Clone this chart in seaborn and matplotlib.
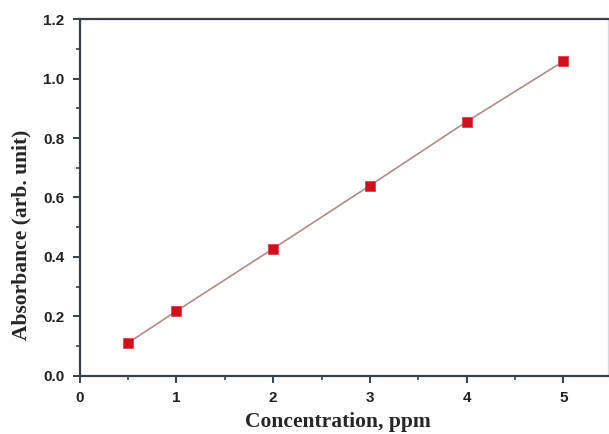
import numpy as np
import pandas as pd
import matplotlib
matplotlib.use("Agg")
import matplotlib.pyplot as plt
import seaborn as sns
from matplotlib.ticker import MultipleLocator

# calibration data
concentration = [0.5, 1, 2, 3, 4, 5]
absorbance = [0.111, 0.218, 0.428, 0.640, 0.855, 1.058]

df = pd.DataFrame({"conc": concentration, "abs": absorbance})

sns.set_style("ticks")

fig = plt.figure(figsize=(6.09, 4.34), dpi=100)
ax = fig.add_axes([0.131, 0.134, 0.867, 0.822])

sns.lineplot(data=df, x="conc", y="abs", ax=ax, color="#b38a8a", linewidth=1.2,
             marker="s", markersize=7, markerfacecolor="#d0101c",
             markeredgecolor="#e04050", markeredgewidth=0.6)

ax.set_xlim(0, 5.46)
ax.set_ylim(0, 1.2)
ax.xaxis.set_major_locator(MultipleLocator(1))
ax.xaxis.set_minor_locator(MultipleLocator(0.5))
ax.yaxis.set_major_locator(MultipleLocator(0.2))
ax.yaxis.set_minor_locator(MultipleLocator(0.1))
ax.xaxis.set_major_formatter(plt.FuncFormatter(lambda v, p: f"{v:.0f}"))
ax.yaxis.set_major_formatter(plt.FuncFormatter(lambda v, p: f"{v:.1f}"))

for s in ax.spines.values():
    s.set_color("#3a4048")
    s.set_linewidth(1.6)
ax.spines["right"].set_color("#d8dadc")
ax.spines["right"].set_linewidth(1.0)

ax.tick_params(which="major", direction="out", length=5, width=1.4, color="#3a4048",
               labelsize=11, pad=6)
ax.tick_params(which="minor", direction="out", length=3, width=1.2, color="#3a4048")
for lab in ax.get_xticklabels() + ax.get_yticklabels():
    lab.set_fontfamily("Liberation Sans")
    lab.set_fontweight("bold")
    lab.set_color("#222222")

ax.set_xlabel("Concentration, ppm", fontfamily="Liberation Serif", fontweight="bold",
              fontsize=15.5)
ax.set_ylabel("Absorbance (arb. unit)", fontfamily="Liberation Serif", fontweight="bold",
              fontsize=15.5)
# labels sit a bit off-centre in the original
ax.yaxis.set_label_coords(-0.092, 0.395)
ax.xaxis.set_label_coords(0.489, -0.1)

fig.savefig("out.png", dpi=100)
